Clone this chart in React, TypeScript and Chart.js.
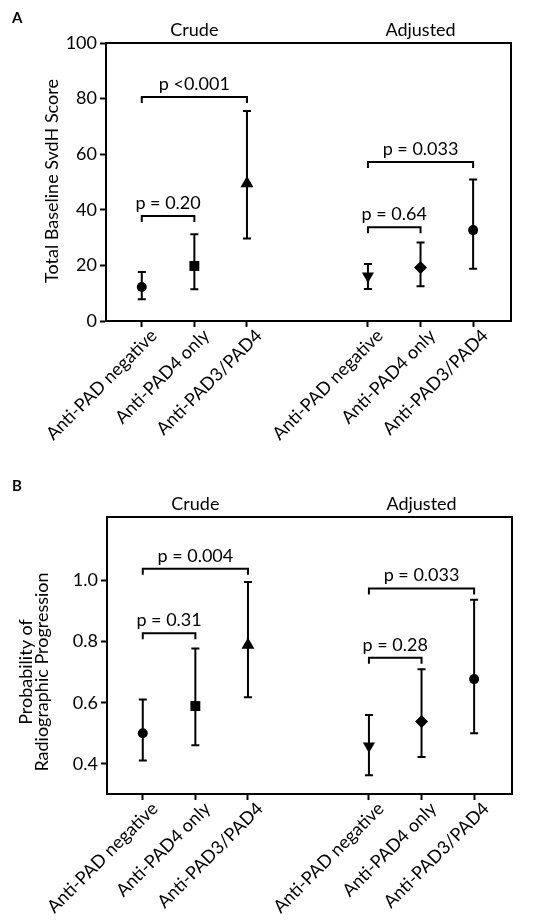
import { useEffect, useRef } from 'react';
import { Chart, registerables } from 'chart.js';

Chart.register(...registerables);

// ---- shared categories ----
const positions = [1, 2, 3, 5.3, 6.3, 7.3];
const categoryLabels = [
  'Anti-PAD negative',
  'Anti-PAD4 only',
  'Anti-PAD3/PAD4',
  'Anti-PAD negative',
  'Anti-PAD4 only',
  'Anti-PAD3/PAD4',
];
const sectionTitles = ['Crude', 'Adjusted'];
const sectionCenters = [2, 6.3];
const markerStyles = ['circle', 'rect', 'triangle', 'triangle', 'rectRot', 'circle'];
const markerRotations = [0, 0, 0, 180, 0, 0];

// ---- Panel A: Total Baseline SvdH Score ----
const scoreMean = [12.2, 19.8, 49.5, 16.2, 19.2, 32.7];
const scoreLower = [7.8, 11.4, 29.7, 11.5, 12.5, 18.8];
const scoreUpper = [17.6, 31.2, 75.5, 20.5, 28.2, 50.9];
const scoreTicks = [0, 20, 40, 60, 80, 100];
const scoreBracketFrom = [1, 1, 5.3, 5.3];
const scoreBracketTo = [3, 2, 7.3, 6.3];
const scoreBracketLevel = [80.6, 37.8, 57.2, 33.7];
const scoreBracketText = ['p <0.001', 'p = 0.20', 'p = 0.033', 'p = 0.64'];

// ---- Panel B: Probability of Radiographic Progression ----
const progMean = [0.5, 0.589, 0.788, 0.459, 0.539, 0.677];
const progLower = [0.411, 0.461, 0.618, 0.363, 0.423, 0.5];
const progUpper = [0.61, 0.777, 0.994, 0.56, 0.709, 0.936];
const progTicks = [0.4, 0.6, 0.8, 1.0];
const progBracketFrom = [1, 1, 5.3, 5.3];
const progBracketTo = [3, 2, 7.3, 6.3];
const progBracketLevel = [1.037, 0.827, 0.973, 0.747];
const progBracketText = ['p = 0.004', 'p = 0.31', 'p = 0.033', 'p = 0.28'];

const FONT = 'Lato, "Open Sans", sans-serif';
const FS = 18;

type Panel = {
  letter: string;
  mean: number[];
  lower: number[];
  upper: number[];
  yMin: number;
  yMax: number;
  yTicks: number[];
  yDecimals: number;
  bFrom: number[];
  bTo: number[];
  bLevel: number[];
  bText: string[];
  yTitle: string[];
  titleBaselines: number[];
  titleCenterY: number;
  padTop: number;
  padRight: number;
  yWidth: number;
  xHeight: number;
  letterBaseline: number;
  markerRadii: number[];
};

function buildChart(canvas: HTMLCanvasElement, p: Panel) {
  const annot = {
    id: 'annot' + p.letter,
    beforeDatasetsDraw(chart: any) {
      const ctx = chart.ctx;
      const xs = chart.scales.x;
      const ys = chart.scales.y;
      ctx.save();
      ctx.strokeStyle = '#000';
      ctx.lineWidth = 2;
      positions.forEach((pos, i) => {
        const x = xs.getPixelForValue(pos);
        const yl = ys.getPixelForValue(p.lower[i]);
        const yu = ys.getPixelForValue(p.upper[i]);
        ctx.beginPath();
        ctx.moveTo(x, yl);
        ctx.lineTo(x, yu);
        ctx.moveTo(x - 4, yl);
        ctx.lineTo(x + 4, yl);
        ctx.moveTo(x - 4, yu);
        ctx.lineTo(x + 4, yu);
        ctx.stroke();
      });
      ctx.restore();
    },
    afterDraw(chart: any) {
      const ctx = chart.ctx;
      const xs = chart.scales.x;
      const ys = chart.scales.y;
      const a = chart.chartArea;
      ctx.save();
      // frame
      ctx.strokeStyle = '#000';
      ctx.lineWidth = 2;
      ctx.strokeRect(a.left, a.top, a.right - a.left, a.bottom - a.top);
      // brackets
      ctx.fillStyle = '#000';
      ctx.font = `${FS}px ${FONT}`;
      ctx.textAlign = 'center';
      ctx.textBaseline = 'alphabetic';
      p.bFrom.forEach((f, i) => {
        const x1 = xs.getPixelForValue(f);
        const x2 = xs.getPixelForValue(p.bTo[i]);
        const y = ys.getPixelForValue(p.bLevel[i]);
        ctx.beginPath();
        ctx.moveTo(x1, y + 6);
        ctx.lineTo(x1, y);
        ctx.lineTo(x2, y);
        ctx.lineTo(x2, y + 6);
        ctx.stroke();
        ctx.fillText(p.bText[i], (x1 + x2) / 2, y - 7);
      });
      // section titles
      sectionTitles.forEach((t, i) => {
        ctx.fillText(t, xs.getPixelForValue(sectionCenters[i]), a.top - 7);
      });
      // panel letter
      ctx.textAlign = 'left';
      ctx.font = `bold 15px ${FONT}`;
      ctx.fillText(p.letter, 12, p.letterBaseline);
      // y-axis title
      ctx.font = `${FS}px ${FONT}`;
      ctx.textAlign = 'center';
      p.yTitle.forEach((line, i) => {
        ctx.save();
        ctx.translate(p.titleBaselines[i], p.titleCenterY);
        ctx.rotate(-Math.PI / 2);
        ctx.fillText(line, 0, 0);
        ctx.restore();
      });
      ctx.restore();
    },
  };

  return new Chart(canvas, {
    type: 'scatter',
    data: {
      datasets: [
        {
          data: positions.map((x, i) => ({ x, y: p.mean[i] })),
          pointStyle: markerStyles as any,
          pointRotation: markerRotations,
          pointRadius: p.markerRadii,
          pointBackgroundColor: '#000',
          pointBorderColor: '#000',
          pointBorderWidth: 0,
          showLine: false,
        } as any,
      ],
    },
    options: {
      animation: false,
      responsive: false,
      devicePixelRatio: 1,
      layout: { padding: { top: p.padTop, right: p.padRight, left: 0, bottom: 0 } },
      plugins: { legend: { display: false }, tooltip: { enabled: false } },
      scales: {
        x: {
          type: 'linear',
          min: 0.32,
          max: 8.02,
          afterBuildTicks: (s: any) => {
            s.ticks = positions.map((v) => ({ value: v }));
          },
          afterFit: (s: any) => {
            s.height = p.xHeight;
          },
          grid: {
            drawOnChartArea: false,
            drawTicks: true,
            tickLength: 6,
            tickWidth: 2,
            tickColor: '#000',
          },
          border: { display: true, color: '#000', width: 2 },
          ticks: {
            autoSkip: false,
            maxRotation: 45,
            minRotation: 45,
            labelOffset: 12,
            padding: -2,
            color: '#000',
            font: { family: FONT, size: FS },
            callback: (v: any) => {
              const i = positions.findIndex((q) => Math.abs(q - Number(v)) < 0.01);
              return i >= 0 ? categoryLabels[i] : '';
            },
          },
        },
        y: {
          type: 'linear',
          min: p.yMin,
          max: p.yMax,
          afterBuildTicks: (s: any) => {
            s.ticks = p.yTicks.map((v) => ({ value: v }));
          },
          afterFit: (s: any) => {
            s.width = p.yWidth;
          },
          grid: {
            drawOnChartArea: false,
            drawTicks: true,
            tickLength: 6,
            tickWidth: 2,
            tickColor: '#000',
          },
          border: { display: true, color: '#000', width: 2 },
          ticks: {
            padding: 3,
            color: '#000',
            font: { family: FONT, size: FS },
            callback: (v: any) => Number(v).toFixed(p.yDecimals),
          },
        },
      },
    },
    plugins: [annot],
  } as any);
}

const panelA: Panel = {
  letter: 'A',
  mean: scoreMean,
  lower: scoreLower,
  upper: scoreUpper,
  yMin: 0,
  yMax: 100,
  yTicks: scoreTicks,
  yDecimals: 0,
  bFrom: scoreBracketFrom,
  bTo: scoreBracketTo,
  bLevel: scoreBracketLevel,
  bText: scoreBracketText,
  yTitle: ['Total Baseline SvdH Score'],
  titleBaselines: [58],
  titleCenterY: 181,
  padTop: 43,
  padRight: 25,
  yWidth: 106,
  xHeight: 139,
  letterBaseline: 23,
  markerRadii: [5, 7, 7.5, 7, 6.5, 5],
};

const panelB: Panel = {
  letter: 'B',
  mean: progMean,
  lower: progLower,
  upper: progUpper,
  yMin: 0.302,
  yMax: 1.206,
  yTicks: progTicks,
  yDecimals: 1,
  bFrom: progBracketFrom,
  bTo: progBracketTo,
  bLevel: progBracketLevel,
  bText: progBracketText,
  yTitle: ['Probability of', 'Radiographic Progression'],
  titleBaselines: [32, 47.5],
  titleCenterY: 212,
  padTop: 57,
  padRight: 24,
  yWidth: 107,
  xHeight: 126,
  letterBaseline: 31,
  markerRadii: [5, 7, 7.5, 7, 6.5, 5],
};

export default function App() {
  const refA = useRef<HTMLCanvasElement>(null);
  const refB = useRef<HTMLCanvasElement>(null);
  useEffect(() => {
    const ca = buildChart(refA.current!, panelA);
    const cb = buildChart(refB.current!, panelB);
    return () => {
      ca.destroy();
      cb.destroy();
    };
  }, []);
  return (
    <div style={{ position: 'absolute', left: 0, top: 0, width: 536, height: 920, background: '#fff' }}>
      <canvas ref={refA} width={536} height={460} style={{ display: 'block', width: 536, height: 460 }} />
      <canvas ref={refB} width={536} height={460} style={{ display: 'block', width: 536, height: 460 }} />
    </div>
  );
}
